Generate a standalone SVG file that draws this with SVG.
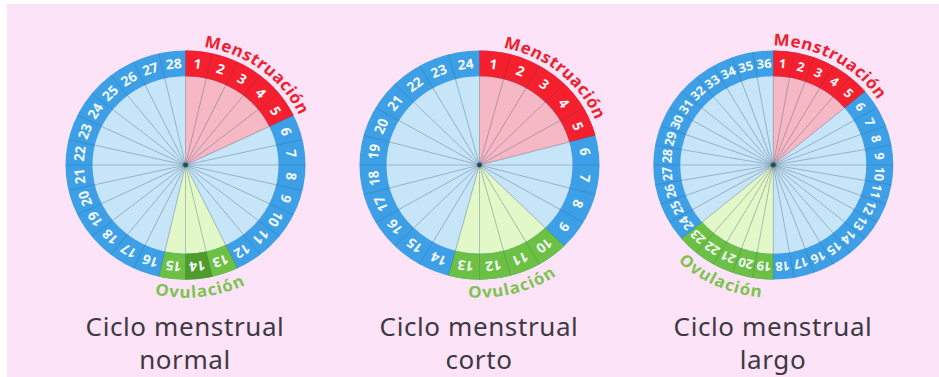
<svg xmlns="http://www.w3.org/2000/svg" xmlns:xlink="http://www.w3.org/1999/xlink" width="939" height="377" viewBox="0 0 939 377">
<style>
.ibg{fill:#c6e5f9}
.wedge{fill:none;stroke-width:93}
.band{fill:none;stroke-width:27}
.spoke{stroke:#4a5d6e;stroke-opacity:0.45;stroke-width:0.8}
.div{stroke:#123f66;stroke-opacity:0.22;stroke-width:0.8}
.num{font-family:"Noto Sans","DejaVu Sans",sans-serif;font-weight:bold;font-size:14px;fill:#f3f9fd;text-anchor:middle}
.n36{font-size:13px}
.mens{font-family:"Noto Sans","DejaVu Sans",sans-serif;font-weight:bold;font-size:17px;letter-spacing:0.6px;fill:#ef1f2f;text-anchor:middle}
.ovu{font-family:"Noto Sans","DejaVu Sans",sans-serif;font-weight:bold;font-size:17px;letter-spacing:1px;fill:#7ec352;text-anchor:middle}
.title{font-family:"Noto Sans","DejaVu Sans",sans-serif;font-size:26px;letter-spacing:0.6px;fill:#3c3942;text-anchor:middle}
.dot{fill:#1f4f63}
</style>
<defs>
<g id="tk"><line class="spoke" x1="0" y1="0" x2="0" y2="-93"/><line class="div" x1="0" y1="-93" x2="0" y2="-120"/></g>
<path id="topArc" d="M -125,0 A125,125 0 0 1 125,0"/>
<path id="botArc" d="M -139,0 A139,139 0 0 0 139,0"/>
</defs>
<rect x="0" y="0" width="939" height="377" fill="#ffffff"/>
<rect x="7" y="4" width="932" height="373" fill="#fde3f8"/>

<g id="wheel-normal" transform="translate(185.5,165) scale(1,0.955)">
<circle r="93" class="ibg"/>
<circle r="46.5" class="wedge" stroke="#f5b8c4" pathLength="360" stroke-dasharray="64.286 400" transform="rotate(-90)"/>
<circle r="46.5" class="wedge" stroke="#e3f8c8" pathLength="360" stroke-dasharray="38.571 400" transform="rotate(64.286)"/>
<circle r="106.5" class="band" stroke="#3d9fe6"/>
<circle r="106.5" class="band" stroke="#f51f2d" pathLength="360" stroke-dasharray="64.286 400" transform="rotate(-90)"/>
<circle r="106.5" class="band" stroke="#6cc043" pathLength="360" stroke-dasharray="38.571 400" transform="rotate(64.286)"/>
<circle r="106.5" class="band" stroke="#4f9b2c" pathLength="360" stroke-dasharray="12.857 400" transform="rotate(77.143)"/>
<use href="#tk"/><use href="#tk" transform="rotate(12.857)"/><use href="#tk" transform="rotate(25.714)"/><use href="#tk" transform="rotate(38.571)"/><use href="#tk" transform="rotate(51.429)"/><use href="#tk" transform="rotate(64.286)"/><use href="#tk" transform="rotate(77.143)"/><use href="#tk" transform="rotate(90)"/><use href="#tk" transform="rotate(102.857)"/><use href="#tk" transform="rotate(115.714)"/><use href="#tk" transform="rotate(128.571)"/><use href="#tk" transform="rotate(141.429)"/><use href="#tk" transform="rotate(154.286)"/><use href="#tk" transform="rotate(167.143)"/><use href="#tk" transform="rotate(180)"/><use href="#tk" transform="rotate(192.857)"/><use href="#tk" transform="rotate(205.714)"/><use href="#tk" transform="rotate(218.571)"/><use href="#tk" transform="rotate(231.429)"/><use href="#tk" transform="rotate(244.286)"/><use href="#tk" transform="rotate(257.143)"/><use href="#tk" transform="rotate(270)"/><use href="#tk" transform="rotate(282.857)"/><use href="#tk" transform="rotate(295.714)"/><use href="#tk" transform="rotate(308.571)"/><use href="#tk" transform="rotate(321.429)"/><use href="#tk" transform="rotate(334.286)"/><use href="#tk" transform="rotate(347.143)"/>
<circle r="2.5" class="dot"/>
<g class="num">
<text transform="rotate(6.429) translate(0,-106.5)" dy="0.36em">1</text>
<text transform="rotate(19.286) translate(0,-106.5)" dy="0.36em">2</text>
<text transform="rotate(32.143) translate(0,-106.5)" dy="0.36em">3</text>
<text transform="rotate(45) translate(0,-106.5)" dy="0.36em">4</text>
<text transform="rotate(57.857) translate(0,-106.5)" dy="0.36em">5</text>
<text transform="rotate(70.714) translate(0,-106.5)" dy="0.36em">6</text>
<text transform="rotate(83.571) translate(0,-106.5)" dy="0.36em">7</text>
<text transform="rotate(96.429) translate(0,-106.5)" dy="0.36em">8</text>
<text transform="rotate(109.286) translate(0,-106.5)" dy="0.36em">9</text>
<text transform="rotate(122.143) translate(0,-106.5)" dy="0.36em">10</text>
<text transform="rotate(135) translate(0,-106.5)" dy="0.36em">11</text>
<text transform="rotate(147.857) translate(0,-106.5)" dy="0.36em">12</text>
<text transform="rotate(160.714) translate(0,-106.5)" dy="0.36em">13</text>
<text transform="rotate(173.571) translate(0,-106.5)" dy="0.36em">14</text>
<text transform="rotate(186.429) translate(0,-106.5)" dy="0.36em">15</text>
<text transform="rotate(199.286) translate(0,-106.5)" dy="0.36em">16</text>
<text transform="rotate(212.143) translate(0,-106.5)" dy="0.36em">17</text>
<text transform="rotate(225) translate(0,-106.5)" dy="0.36em">18</text>
<text transform="rotate(237.857) translate(0,-106.5)" dy="0.36em">19</text>
<text transform="rotate(250.714) translate(0,-106.5)" dy="0.36em">20</text>
<text transform="rotate(263.571) translate(0,-106.5)" dy="0.36em">21</text>
<text transform="rotate(276.429) translate(0,-106.5)" dy="0.36em">22</text>
<text transform="rotate(289.286) translate(0,-106.5)" dy="0.36em">23</text>
<text transform="rotate(302.143) translate(0,-106.5)" dy="0.36em">24</text>
<text transform="rotate(315) translate(0,-106.5)" dy="0.36em">25</text>
<text transform="rotate(327.857) translate(0,-106.5)" dy="0.36em">26</text>
<text transform="rotate(340.714) translate(0,-106.5)" dy="0.36em">27</text>
<text transform="rotate(353.571) translate(0,-106.5)" dy="0.36em">28</text>
</g>
<g transform="rotate(37)"><text class="mens"><textPath href="#topArc" startOffset="50%">Menstruación</textPath></text></g>
<g transform="rotate(-6.5)"><text class="ovu"><textPath href="#botArc" startOffset="50%">Ovulación</textPath></text></g>
</g>

<g id="wheel-corto" transform="translate(479.5,165) scale(1,0.955)">
<circle r="93" class="ibg"/>
<circle r="46.5" class="wedge" stroke="#f5b8c4" pathLength="360" stroke-dasharray="75 400" transform="rotate(-90)"/>
<circle r="46.5" class="wedge" stroke="#e3f8c8" pathLength="360" stroke-dasharray="60 400" transform="rotate(45)"/>
<circle r="106.5" class="band" stroke="#3d9fe6"/>
<circle r="106.5" class="band" stroke="#f51f2d" pathLength="360" stroke-dasharray="75 400" transform="rotate(-90)"/>
<circle r="106.5" class="band" stroke="#6cc043" pathLength="360" stroke-dasharray="60 400" transform="rotate(45)"/>
<use href="#tk"/><use href="#tk" transform="rotate(15)"/><use href="#tk" transform="rotate(30)"/><use href="#tk" transform="rotate(45)"/><use href="#tk" transform="rotate(60)"/><use href="#tk" transform="rotate(75)"/><use href="#tk" transform="rotate(90)"/><use href="#tk" transform="rotate(105)"/><use href="#tk" transform="rotate(120)"/><use href="#tk" transform="rotate(135)"/><use href="#tk" transform="rotate(150)"/><use href="#tk" transform="rotate(165)"/><use href="#tk" transform="rotate(180)"/><use href="#tk" transform="rotate(195)"/><use href="#tk" transform="rotate(210)"/><use href="#tk" transform="rotate(225)"/><use href="#tk" transform="rotate(240)"/><use href="#tk" transform="rotate(255)"/><use href="#tk" transform="rotate(270)"/><use href="#tk" transform="rotate(285)"/><use href="#tk" transform="rotate(300)"/><use href="#tk" transform="rotate(315)"/><use href="#tk" transform="rotate(330)"/><use href="#tk" transform="rotate(345)"/>
<circle r="2.5" class="dot"/>
<g class="num">
<text transform="rotate(7.5) translate(0,-106.5)" dy="0.36em">1</text>
<text transform="rotate(22.5) translate(0,-106.5)" dy="0.36em">2</text>
<text transform="rotate(37.5) translate(0,-106.5)" dy="0.36em">3</text>
<text transform="rotate(52.5) translate(0,-106.5)" dy="0.36em">4</text>
<text transform="rotate(67.5) translate(0,-106.5)" dy="0.36em">5</text>
<text transform="rotate(82.5) translate(0,-106.5)" dy="0.36em">6</text>
<text transform="rotate(97.5) translate(0,-106.5)" dy="0.36em">7</text>
<text transform="rotate(112.5) translate(0,-106.5)" dy="0.36em">8</text>
<text transform="rotate(127.5) translate(0,-106.5)" dy="0.36em">9</text>
<text transform="rotate(142.5) translate(0,-106.5)" dy="0.36em">10</text>
<text transform="rotate(157.5) translate(0,-106.5)" dy="0.36em">11</text>
<text transform="rotate(172.5) translate(0,-106.5)" dy="0.36em">12</text>
<text transform="rotate(187.5) translate(0,-106.5)" dy="0.36em">13</text>
<text transform="rotate(202.5) translate(0,-106.5)" dy="0.36em">14</text>
<text transform="rotate(217.5) translate(0,-106.5)" dy="0.36em">15</text>
<text transform="rotate(232.5) translate(0,-106.5)" dy="0.36em">16</text>
<text transform="rotate(247.5) translate(0,-106.5)" dy="0.36em">17</text>
<text transform="rotate(262.5) translate(0,-106.5)" dy="0.36em">18</text>
<text transform="rotate(277.5) translate(0,-106.5)" dy="0.36em">19</text>
<text transform="rotate(292.5) translate(0,-106.5)" dy="0.36em">20</text>
<text transform="rotate(307.5) translate(0,-106.5)" dy="0.36em">21</text>
<text transform="rotate(322.5) translate(0,-106.5)" dy="0.36em">22</text>
<text transform="rotate(337.5) translate(0,-106.5)" dy="0.36em">23</text>
<text transform="rotate(352.5) translate(0,-106.5)" dy="0.36em">24</text>
</g>
<g transform="rotate(39.5)"><text class="mens"><textPath href="#topArc" startOffset="50%">Menstruación</textPath></text></g>
<g transform="rotate(-14.6)"><text class="ovu"><textPath href="#botArc" startOffset="50%">Ovulación</textPath></text></g>
</g>

<g id="wheel-largo" transform="translate(773.3,165) scale(1,0.955)">
<circle r="93" class="ibg"/>
<circle r="46.5" class="wedge" stroke="#f5b8c4" pathLength="360" stroke-dasharray="50 400" transform="rotate(-90)"/>
<circle r="46.5" class="wedge" stroke="#e3f8c8" pathLength="360" stroke-dasharray="50 400" transform="rotate(90)"/>
<circle r="106.5" class="band" stroke="#3d9fe6"/>
<circle r="106.5" class="band" stroke="#f51f2d" pathLength="360" stroke-dasharray="50 400" transform="rotate(-90)"/>
<circle r="106.5" class="band" stroke="#6cc043" pathLength="360" stroke-dasharray="50 400" transform="rotate(90)"/>
<use href="#tk"/><use href="#tk" transform="rotate(10)"/><use href="#tk" transform="rotate(20)"/><use href="#tk" transform="rotate(30)"/><use href="#tk" transform="rotate(40)"/><use href="#tk" transform="rotate(50)"/><use href="#tk" transform="rotate(60)"/><use href="#tk" transform="rotate(70)"/><use href="#tk" transform="rotate(80)"/><use href="#tk" transform="rotate(90)"/><use href="#tk" transform="rotate(100)"/><use href="#tk" transform="rotate(110)"/><use href="#tk" transform="rotate(120)"/><use href="#tk" transform="rotate(130)"/><use href="#tk" transform="rotate(140)"/><use href="#tk" transform="rotate(150)"/><use href="#tk" transform="rotate(160)"/><use href="#tk" transform="rotate(170)"/><use href="#tk" transform="rotate(180)"/><use href="#tk" transform="rotate(190)"/><use href="#tk" transform="rotate(200)"/><use href="#tk" transform="rotate(210)"/><use href="#tk" transform="rotate(220)"/><use href="#tk" transform="rotate(230)"/><use href="#tk" transform="rotate(240)"/><use href="#tk" transform="rotate(250)"/><use href="#tk" transform="rotate(260)"/><use href="#tk" transform="rotate(270)"/><use href="#tk" transform="rotate(280)"/><use href="#tk" transform="rotate(290)"/><use href="#tk" transform="rotate(300)"/><use href="#tk" transform="rotate(310)"/><use href="#tk" transform="rotate(320)"/><use href="#tk" transform="rotate(330)"/><use href="#tk" transform="rotate(340)"/><use href="#tk" transform="rotate(350)"/>
<circle r="2.5" class="dot"/>
<g class="num n36">
<text transform="rotate(5) translate(0,-106.5)" dy="0.36em">1</text>
<text transform="rotate(15) translate(0,-106.5)" dy="0.36em">2</text>
<text transform="rotate(25) translate(0,-106.5)" dy="0.36em">3</text>
<text transform="rotate(35) translate(0,-106.5)" dy="0.36em">4</text>
<text transform="rotate(45) translate(0,-106.5)" dy="0.36em">5</text>
<text transform="rotate(55) translate(0,-106.5)" dy="0.36em">6</text>
<text transform="rotate(65) translate(0,-106.5)" dy="0.36em">7</text>
<text transform="rotate(75) translate(0,-106.5)" dy="0.36em">8</text>
<text transform="rotate(85) translate(0,-106.5)" dy="0.36em">9</text>
<text transform="rotate(95) translate(0,-106.5)" dy="0.36em">10</text>
<text transform="rotate(105) translate(0,-106.5)" dy="0.36em">11</text>
<text transform="rotate(115) translate(0,-106.5)" dy="0.36em">12</text>
<text transform="rotate(125) translate(0,-106.5)" dy="0.36em">13</text>
<text transform="rotate(135) translate(0,-106.5)" dy="0.36em">14</text>
<text transform="rotate(145) translate(0,-106.5)" dy="0.36em">15</text>
<text transform="rotate(155) translate(0,-106.5)" dy="0.36em">16</text>
<text transform="rotate(165) translate(0,-106.5)" dy="0.36em">17</text>
<text transform="rotate(175) translate(0,-106.5)" dy="0.36em">18</text>
<text transform="rotate(185) translate(0,-106.5)" dy="0.36em">19</text>
<text transform="rotate(195) translate(0,-106.5)" dy="0.36em">20</text>
<text transform="rotate(205) translate(0,-106.5)" dy="0.36em">21</text>
<text transform="rotate(215) translate(0,-106.5)" dy="0.36em">22</text>
<text transform="rotate(225) translate(0,-106.5)" dy="0.36em">23</text>
<text transform="rotate(235) translate(0,-106.5)" dy="0.36em">24</text>
<text transform="rotate(245) translate(0,-106.5)" dy="0.36em">25</text>
<text transform="rotate(255) translate(0,-106.5)" dy="0.36em">26</text>
<text transform="rotate(265) translate(0,-106.5)" dy="0.36em">27</text>
<text transform="rotate(275) translate(0,-106.5)" dy="0.36em">28</text>
<text transform="rotate(285) translate(0,-106.5)" dy="0.36em">29</text>
<text transform="rotate(295) translate(0,-106.5)" dy="0.36em">30</text>
<text transform="rotate(305) translate(0,-106.5)" dy="0.36em">31</text>
<text transform="rotate(315) translate(0,-106.5)" dy="0.36em">32</text>
<text transform="rotate(325) translate(0,-106.5)" dy="0.36em">33</text>
<text transform="rotate(335) translate(0,-106.5)" dy="0.36em">34</text>
<text transform="rotate(345) translate(0,-106.5)" dy="0.36em">35</text>
<text transform="rotate(355) translate(0,-106.5)" dy="0.36em">36</text>
</g>
<g transform="rotate(28.5)"><text class="mens"><textPath href="#topArc" startOffset="50%">Menstruación</textPath></text></g>
<g transform="rotate(24)"><text class="ovu"><textPath href="#botArc" startOffset="50%">Ovulación</textPath></text></g>
</g>

<g id="titles">
<text class="title" x="185" y="335.5">Ciclo menstrual</text>
<text class="title" x="185" y="369">normal</text>
<text class="title" x="479" y="335.5">Ciclo menstrual</text>
<text class="title" x="479" y="369">corto</text>
<text class="title" x="773" y="335.5">Ciclo menstrual</text>
<text class="title" x="773" y="369">largo</text>
</g>
</svg>
